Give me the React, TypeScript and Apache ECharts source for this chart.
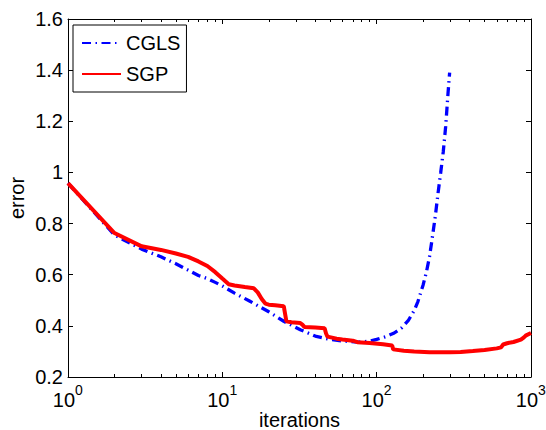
import React, { useEffect, useRef } from 'react';
import * as echarts from 'echarts';

const cglsIter = [1, 2, 3, 4, 5, 6, 7, 8, 9, 10, 12, 15, 20, 25, 32, 40, 50, 60, 75, 90, 100, 115, 130, 145, 160, 175, 185, 200, 210, 220, 230, 240, 250, 260, 270, 280, 290, 297];
const cglsError = [0.958, 0.755, 0.7, 0.67, 0.643, 0.618, 0.597, 0.585, 0.57, 0.556, 0.528, 0.497, 0.455, 0.418, 0.385, 0.36, 0.347, 0.341, 0.336, 0.34, 0.347, 0.358, 0.372, 0.392, 0.42, 0.46, 0.495, 0.56, 0.61, 0.67, 0.75, 0.83, 0.92, 1.0, 1.08, 1.18, 1.31, 1.39];

const sgpIter = [1, 2, 3, 4, 5, 6, 7, 8, 9, 10, 11, 12, 14, 16, 17, 18, 19, 20, 22, 25, 26, 28, 32, 33, 34, 40, 46, 47, 48, 55, 60, 70, 75, 90, 110, 126, 128, 150, 175, 220, 300, 350, 420, 500, 600, 640, 660, 700, 770, 860, 900, 930, 1000];
const sgpError = [0.958, 0.763, 0.711, 0.697, 0.683, 0.67, 0.652, 0.634, 0.61, 0.585, 0.563, 0.558, 0.552, 0.547, 0.53, 0.505, 0.487, 0.483, 0.481, 0.477, 0.418, 0.414, 0.411, 0.405, 0.396, 0.394, 0.391, 0.37, 0.358, 0.35, 0.347, 0.342, 0.336, 0.333, 0.328, 0.323, 0.308, 0.303, 0.3, 0.297, 0.297, 0.298, 0.302, 0.306, 0.312, 0.316, 0.327, 0.332, 0.337, 0.346, 0.355, 0.363, 0.372];

const seriesNames = ['CGLS', 'SGP'];
const xRange = [1, 1000];
const yRange = [0.2, 1.6];
const yStep = 0.2;

const FONT = '"Liberation Sans", Arial, Helvetica, sans-serif';

export default function App() {
  const ref = useRef<HTMLDivElement>(null);
  useEffect(() => {
    document.body.style.margin = '0';
    const chart = echarts.init(ref.current!, null, { renderer: 'svg' });
    const pairs = (xs: number[], ys: number[]) => xs.map((x, i) => [x, ys[i]]);
    const axisLine = { show: true, lineStyle: { color: '#000', width: 1 } };
    const tickStyle = { color: '#000', width: 1 };
    const xBase = {
      type: 'log',
      logBase: 10,
      min: xRange[0],
      max: xRange[1],
      axisLine,
      axisTick: { show: true, inside: true, length: 5, lineStyle: tickStyle },
      minorTick: { show: true, splitNumber: 9, length: 3, lineStyle: tickStyle },
      splitLine: { show: false },
      minorSplitLine: { show: false },
    };
    const yBase = {
      type: 'value',
      min: yRange[0],
      max: yRange[1],
      interval: yStep,
      axisLine,
      axisTick: { show: true, inside: true, length: 5, lineStyle: tickStyle },
      splitLine: { show: false },
    };
    chart.setOption({
      animation: false,
      backgroundColor: '#fff',
      grid: { left: 68, right: 15, top: 19, bottom: 53, containLabel: false, outerBoundsMode: 'none' },
      legend: {
        data: seriesNames,
        orient: 'vertical',
        left: 73,
        top: 25,
        backgroundColor: '#fff',
        borderColor: '#000',
        borderWidth: 1,
        padding: [8, 6, 8, 8],
        itemWidth: 39,
        itemHeight: 20,
        itemGap: 11,
        itemStyle: { opacity: 0 },
        textStyle: { fontSize: 20, color: '#000', fontFamily: FONT },
      },
      xAxis: [
        {
          ...xBase,
          position: 'bottom',
          name: 'iterations',
          nameLocation: 'middle',
          nameGap: 33,
          nameMoveOverlap: false,
          nameTextStyle: { fontSize: 20, color: '#000', fontFamily: FONT },
          axisLabel: {
            show: true,
            margin: 6,
            showMinLabel: true,
            showMaxLabel: true,
            formatter: (v: number) => `{b|10}{s|${Math.round(Math.log10(v))}}{h| }`,
            rich: {
              b: { fontSize: 20, lineHeight: 20, verticalAlign: 'bottom', color: '#000', fontFamily: FONT },
              s: { fontSize: 14, lineHeight: 14, verticalAlign: 'top', color: '#000', fontFamily: FONT },
              h: { fontSize: 1, lineHeight: 27, color: 'transparent' },
            },
          },
        },
        { ...xBase, position: 'top', axisLabel: { show: false } },
      ],
      yAxis: [
        {
          ...yBase,
          position: 'left',
          name: 'error',
          nameLocation: 'middle',
          nameGap: 41,
          nameMoveOverlap: false,
          nameTextStyle: { fontSize: 20, color: '#000', fontFamily: FONT },
          axisLabel: { show: true, margin: 5, fontSize: 20, color: '#000', fontFamily: FONT },
        },
        { ...yBase, position: 'right', axisLabel: { show: false } },
      ],
      series: [
        {
          name: seriesNames[0],
          type: 'line',
          xAxisIndex: 0,
          yAxisIndex: 0,
          symbol: 'none',
          showSymbol: false,
          data: pairs(cglsIter, cglsError),
          itemStyle: { color: '#0000ff' },
          lineStyle: { color: '#0000ff', width: 3.3, type: [9, 4.5, 1.5, 4.5] },
        },
        {
          name: seriesNames[1],
          type: 'line',
          xAxisIndex: 0,
          yAxisIndex: 0,
          symbol: 'none',
          showSymbol: false,
          data: pairs(sgpIter, sgpError),
          itemStyle: { color: '#ff0000' },
          lineStyle: { color: '#ff0000', width: 4, type: 'solid' },
        },
      ],
    });
    return () => chart.dispose();
  }, []);
  return <div ref={ref} style={{ position: 'absolute', left: 0, top: 0, width: 546, height: 430 }} />;
}
